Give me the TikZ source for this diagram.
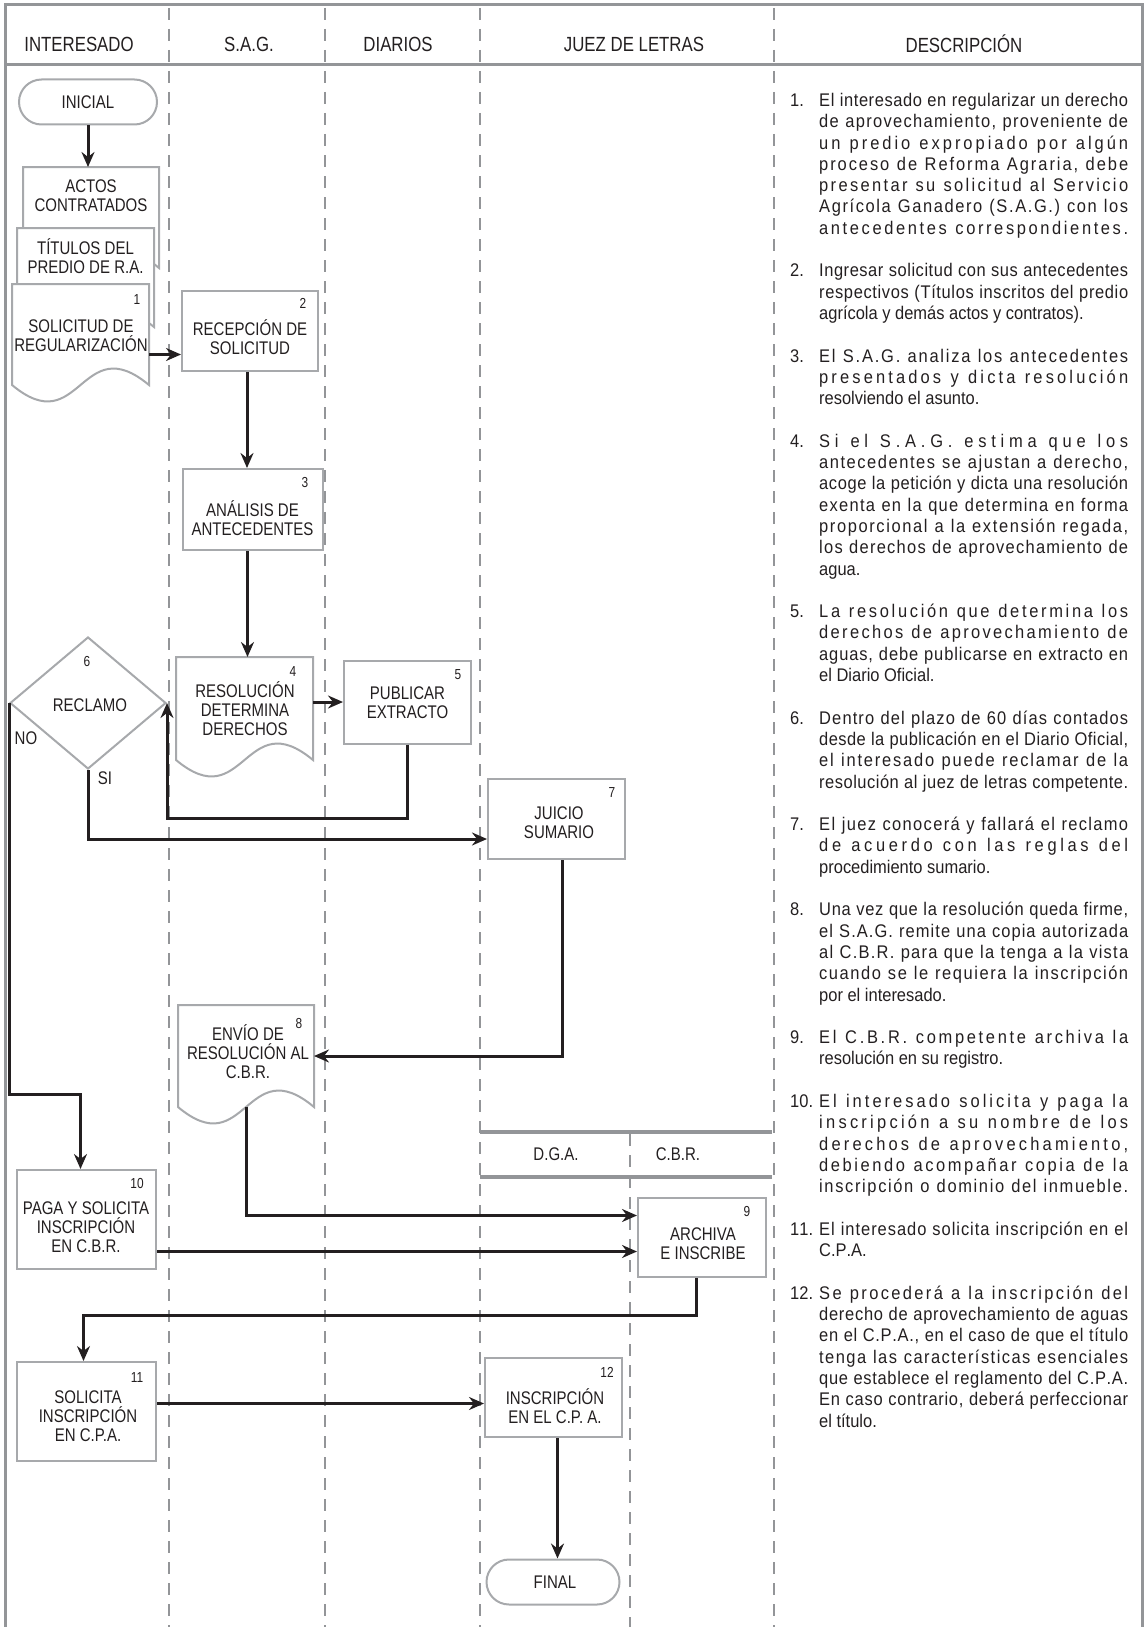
\documentclass[tikz,border=0pt]{standalone}
\usepackage{fontspec}
\setmainfont{Liberation Sans}
\newfontfamily\condfont[FakeStretch=0.82]{Liberation Sans}
\newfontfamily\descfont[FakeStretch=0.9]{Liberation Sans}
\usepackage{tikz}
\usetikzlibrary{shapes.geometric,arrows.meta}
\definecolor{ink}{RGB}{35,31,32}
\definecolor{rulegray}{RGB}{147,149,152}
\definecolor{edgegray}{RGB}{167,169,172}

\begin{document}
\begin{tikzpicture}[x=1pt,y=-1pt,
    lane/.style={rulegray, line width=2.5pt, dash pattern=on 12pt off 9pt},
    outerline/.style={rulegray, line width=3pt},
    box/.style={shape=rectangle, draw=edgegray, line width=2pt, fill=white, inner sep=0pt},
    term/.style={box, rounded corners=22.5pt, minimum height=45pt},
    doc/.style={shape=rectangle, inner sep=0pt, outer sep=0pt},
    docline/.style={draw=edgegray, line width=2pt, fill=white},
    txt/.style={font=\condfont\fontsize{18.3}{19}\selectfont, align=center, text=ink, inner sep=0pt},
    num/.style={font=\condfont\fontsize{14.5}{15}\selectfont, text=ink, inner sep=0pt},
    head/.style={font=\condfont\fontsize{20.5}{22}\selectfont, text=ink, inner sep=0pt},
    desc/.style={text width=338pt, align=justify, inner sep=0pt, text=ink, font=\descfont\fontsize{18.3}{21.3}\selectfont},
    arr/.style={ink, line width=3pt, -{Stealth[length=15pt,width=13pt,inset=5pt]}}]
    \useasboundingbox (0,0) rectangle (1144,1627);

    % frame and lanes
    \draw[outerline] (5,1627) -- (5,5) -- (1142,5) -- (1142,1627);
    \draw[outerline] (5,65) -- (1142,65);
    \foreach \x in {169,325,480,774}
        \draw[lane] (\x,8) -- (\x,1627);

    \node[head] (hint) at (79,44) {INTERESADO};
    \node[head] (hsag) at (249,44) {S.A.G.};
    \node[head] (hdia) at (398,44) {DIARIOS};
    \node[head] (hjuez) at (634,44) {JUEZ DE LETRAS};
    \node[head] (hdesc) at (964,44) {DESCRIPCIÓN};

    % sub lanes D.G.A. / C.B.R.
    \draw[rulegray, line width=3.5pt] (480,1132) -- (772,1132);
    \draw[rulegray, line width=3.5pt] (480,1177) -- (772,1177);
    \draw[lane] (630,1134) -- (630,1627);
    \node[txt] (hdga) at (556,1154) {D.G.A.};
    \node[txt] (hcbr) at (678,1154) {C.B.R.};

    % start
    \node[term, minimum width=138pt] (inicial) at (88,102) {};
    \node[txt] (tinicial) at (88,102) {INICIAL};

    % stacked documents
    \node[doc, minimum width=136pt, minimum height=101pt] (actos) at (91,217.5) {};
    \draw[docline] (actos.north west) -- (actos.south west) .. controls ([yshift=-57pt]actos.south) and ([yshift=57pt]actos.south) .. (actos.south east) -- (actos.north east) -- cycle;
    \node[txt] (tactos) at (91,195.5) {ACTOS\\CONTRATADOS};

    \node[doc, minimum width=137pt, minimum height=99pt] (titulos) at (85.5,277.5) {};
    \draw[docline] (titulos.north west) -- (titulos.south west) .. controls ([yshift=-57pt]titulos.south) and ([yshift=57pt]titulos.south) .. (titulos.south east) -- (titulos.north east) -- cycle;
    \node[txt] (ttitulos) at (85.5,256) {TÍTULOS DEL\\PREDIO DE R.A.};

    \node[doc, minimum width=137pt, minimum height=101pt] (sol) at (80.5,334.5) {};
    \draw[docline] (sol.north west) -- (sol.south west) .. controls ([yshift=-57pt]sol.south) and ([yshift=57pt]sol.south) .. (sol.south east) -- (sol.north east) -- cycle;
    \node[txt] (tsol) at (81,336) {SOLICITUD DE\\REGULARIZACIÓN};
    \node[num] (n1) at (137,300) {1};

    % S.A.G. steps
    \node[box, minimum width=136pt, minimum height=80pt] (recep) at (250,331) {};
    \node[txt] (trecep) at (250,337.5) {RECEPCIÓN DE\\SOLICITUD};
    \node[num] (n2) at (303,303) {2};

    \node[box, minimum width=140pt, minimum height=81pt] (anal) at (252.5,509.5) {};
    \node[txt] (tanal) at (252.5,518) {ANÁLISIS DE\\ANTECEDENTES};
    \node[num] (n3) at (305,483) {3};

    \node[doc, minimum width=137pt, minimum height=103pt] (resol) at (244.5,708.5) {};
    \draw[docline] (resol.north west) -- (resol.south west) .. controls ([yshift=-57pt]resol.south) and ([yshift=57pt]resol.south) .. (resol.south east) -- (resol.north east) -- cycle;
    \node[txt] (tresol) at (245,709) {RESOLUCIÓN\\DETERMINA\\DERECHOS};
    \node[num] (n4) at (293,672) {4};

    \node[box, minimum width=127pt, minimum height=83pt] (publ) at (407.5,702) {};
    \node[txt] (tpubl) at (407.5,703) {PUBLICAR\\EXTRACTO};
    \node[num] (n5) at (458,675) {5};

    % reclamo
    \node[shape=diamond, draw=edgegray, line width=2pt, fill=white, inner sep=0pt,
          minimum width=156pt, minimum height=132pt] (recl) at (88,703) {};
    \node[txt] (trecl) at (90,705) {RECLAMO};
    \node[num] (n6) at (87,662) {6};
    \node[txt] (lno) at (26,738) {NO};
    \node[txt] (lsi) at (105,778) {SI};

    \node[box, minimum width=137pt, minimum height=80pt] (juicio) at (556.5,819) {};
    \node[txt] (tjuicio) at (559,822.5) {JUICIO\\SUMARIO};
    \node[num] (n7) at (612,793) {7};

    \node[doc, minimum width=136pt, minimum height=102pt] (envio) at (246,1056) {};
    \draw[docline] (envio.north west) -- (envio.south west) .. controls ([yshift=-57pt]envio.south) and ([yshift=57pt]envio.south) .. (envio.south east) -- (envio.north east) -- cycle;
    \node[txt] (tenvio) at (248,1052) {ENVÍO DE\\RESOLUCIÓN AL\\C.B.R.};
    \node[num] (n8) at (299,1023) {8};

    \node[box, minimum width=128pt, minimum height=79pt] (archiva) at (702,1237.5) {};
    \node[txt] (tarchiva) at (703,1244) {ARCHIVA\\E INSCRIBE};
    \node[num] (n9) at (747,1211) {9};

    \node[box, minimum width=139pt, minimum height=99pt] (paga) at (86.5,1219.5) {};
    \node[txt] (tpaga) at (86,1227) {PAGA Y SOLICITA\\INSCRIPCIÓN\\EN C.B.R.};
    \node[num] (n10) at (137,1183) {10};

    \node[box, minimum width=139pt, minimum height=99pt] (solic) at (86.5,1411.5) {};
    \node[txt] (tsolic) at (88,1416.5) {SOLICITA\\INSCRIPCIÓN\\EN C.P.A.};
    \node[num] (n11) at (137,1377) {11};

    \node[box, minimum width=137pt, minimum height=79pt] (inscr) at (553.5,1397.5) {};
    \node[txt] (tinscr) at (555,1406) {INSCRIPCIÓN\\EN EL C.P. A.};
    \node[num] (n12) at (607,1372) {12};

    \node[term, minimum width=133pt] (final) at (553,1582) {};
    \node[txt] (tfinal) at (555,1582) {FINAL};

    % connectors
    \draw[arr] (inicial.south) -- (inicial.south |- actos.north);
    \draw[arr] ([yshift=-20pt]sol.east) -- ([yshift=-20pt]sol.east -| recep.west);
    \draw[arr] ([xshift=-3pt]recep.south) -- ([xshift=-3pt]recep.south |- anal.north);
    \draw[arr] ([xshift=3pt]resol.north |- anal.south) -- ([xshift=3pt]resol.north);
    \draw[arr] (resol.east |- publ) -- (publ);
    \draw[arr] (publ.south) -- ++(0,74) -| (recl.east);
    \draw[arr] (recl.south) |- ([yshift=-20pt]juicio.west);
    \draw[arr] (recl.west) -- ++(0,391) -| ([xshift=-6pt]paga.north);
    \draw[arr] ([xshift=6pt]juicio.south) |- (envio.east);
    \draw[arr] (envio.south) |- ([yshift=22pt]archiva.west);
    \draw[arr] ([yshift=-32pt]paga.east) -- ([yshift=-32pt]paga.east -| archiva.west);
    \draw[arr] ([xshift=-6pt]archiva.south) -- ++(0,37) -| ([xshift=-3pt]solic.north);
    \draw[arr] ([yshift=8pt]solic.east) -- ([yshift=8pt]solic.east -| inscr.west);
    \draw[arr] ([xshift=4pt]inscr.south) -- ([xshift=4pt]inscr.south |- final.north);

    % description column (letters may stretch a little, as in the print)
    \node[desc, anchor=base west] (descr) at (790,106.5) {%
    \parindent=0pt \parskip=21.3pt \tolerance=10000 \hyphenpenalty=10000 \frenchspacing
    \XeTeXinterchartokenstate=1 \XeTeXinterchartoks 0 0 = {\nobreak\hskip0pt plus 1.5pt\relax}%
    \hangindent=29pt\hangafter=1 \makebox[29pt][l]{1.}El interesado en regularizar un derecho\linebreak de aprovechamiento, proveniente de\linebreak un predio expropiado por algún\linebreak proceso de Reforma Agraria, debe\linebreak presentar su solicitud al Servicio\linebreak Agrícola Ganadero (S.A.G.) con los\linebreak antecedentes correspondientes.{\parfillskip=0pt\par}
    \hangindent=29pt\hangafter=1 \makebox[29pt][l]{2.}Ingresar solicitud con sus antecedentes\linebreak respectivos (Títulos inscritos del predio\linebreak agrícola y demás actos y contratos).\par
    \hangindent=29pt\hangafter=1 \makebox[29pt][l]{3.}El S.A.G. analiza los antecedentes\linebreak presentados y dicta resolución\linebreak resolviendo el asunto.\par
    \hangindent=29pt\hangafter=1 \makebox[29pt][l]{4.}Si el S.A.G. estima que los\linebreak antecedentes se ajustan a derecho,\linebreak acoge la petición y dicta una resolución\linebreak exenta en la que determina en forma\linebreak proporcional a la extensión regada,\linebreak los derechos de aprovechamiento de\linebreak agua.\par
    \hangindent=29pt\hangafter=1 \makebox[29pt][l]{5.}La resolución que determina los\linebreak derechos de aprovechamiento de\linebreak aguas, debe publicarse en extracto en\linebreak el Diario Oficial.\par
    \hangindent=29pt\hangafter=1 \makebox[29pt][l]{6.}Dentro del plazo de 60 días contados\linebreak desde la publicación en el Diario Oficial,\linebreak el interesado puede reclamar de la\linebreak resolución al juez de letras competente.{\parfillskip=0pt\par}
    \hangindent=29pt\hangafter=1 \makebox[29pt][l]{7.}El juez conocerá y fallará el reclamo\linebreak de acuerdo con las reglas del\linebreak procedimiento sumario.\par
    \hangindent=29pt\hangafter=1 \makebox[29pt][l]{8.}Una vez que la resolución queda firme,\linebreak el S.A.G. remite una copia autorizada\linebreak al C.B.R. para que la tenga a la vista\linebreak cuando se le requiera la inscripción\linebreak por el interesado.\par
    \hangindent=29pt\hangafter=1 \makebox[29pt][l]{9.}El C.B.R. competente archiva la\linebreak resolución en su registro.\par
    \hangindent=29pt\hangafter=1 \makebox[29pt][l]{10.}El interesado solicita y paga la\linebreak inscripción a su nombre de los\linebreak derechos de aprovechamiento,\linebreak debiendo acompañar copia de la\linebreak inscripción o dominio del inmueble.{\parfillskip=0pt\par}
    \hangindent=29pt\hangafter=1 \makebox[29pt][l]{11.}El interesado solicita inscripción en el\linebreak C.P.A.\par
    \hangindent=29pt\hangafter=1 \makebox[29pt][l]{12.}Se procederá a la inscripción del\linebreak derecho de aprovechamiento de aguas\linebreak en el C.P.A., en el caso de que el título\linebreak tenga las características esenciales\linebreak que establece el reglamento del C.P.A.\linebreak En caso contrario, deberá perfeccionar\linebreak el título.\par};
\end{tikzpicture}
\end{document}
